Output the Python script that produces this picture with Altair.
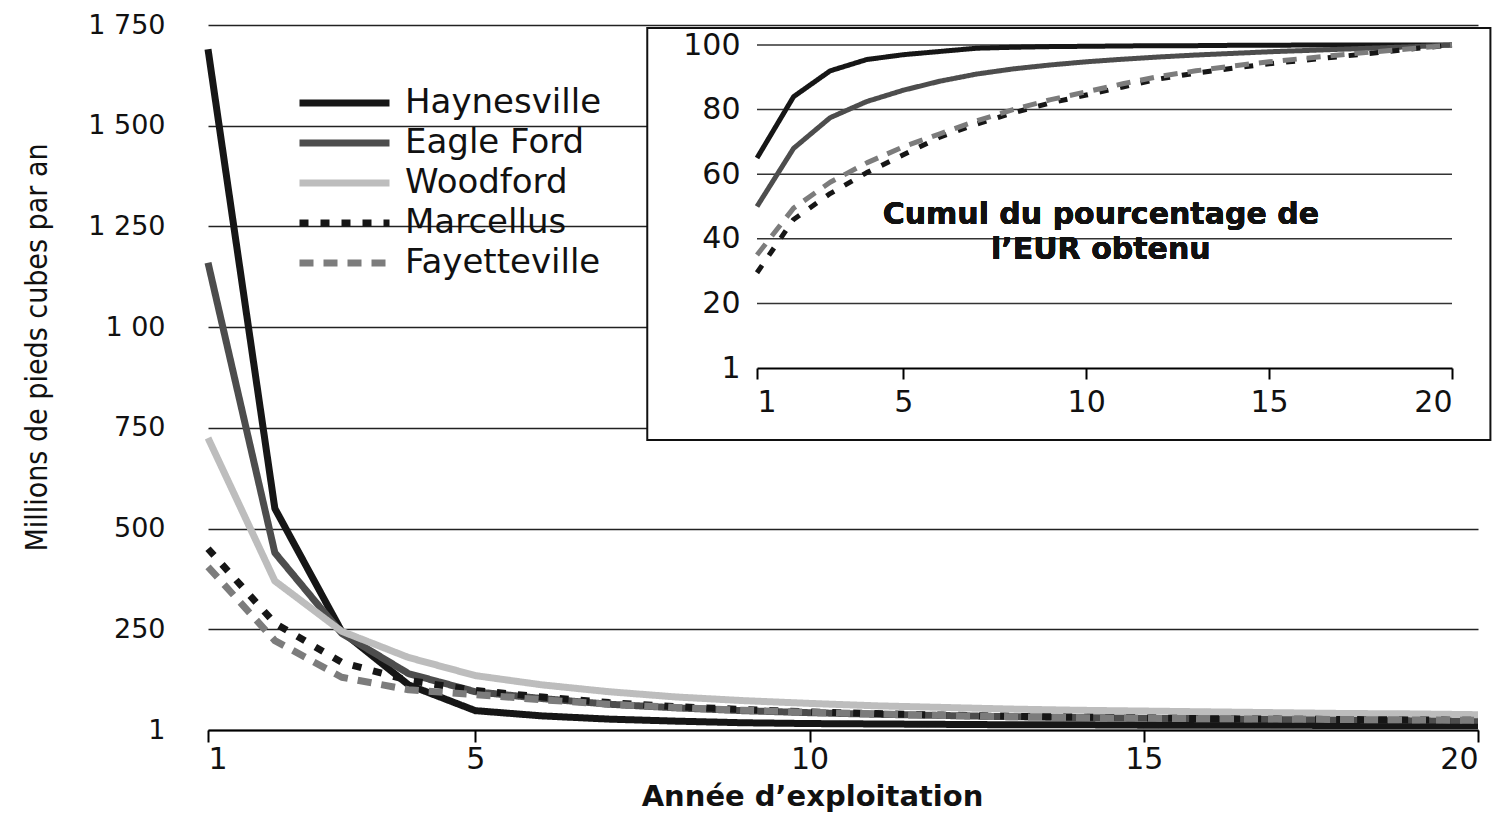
import json
import altair as alt
import pandas as pd

years = list(range(1, 21))
series = ["Haynesville", "Eagle Ford", "Woodford", "Marcellus", "Fayetteville"]

# Main chart: annual production (million cubic feet per year)
haynesville = [1690, 550, 245, 112, 48, 35, 27, 22, 18, 16, 15, 14, 13, 13, 12, 12, 12, 11, 11, 11]
eagle_ford = [1160, 440, 240, 140, 95, 78, 64, 55, 48, 43, 39, 36, 33, 31, 29, 28, 27, 26, 25, 24]
woodford = [725, 370, 245, 180, 135, 112, 95, 82, 73, 66, 60, 56, 52, 49, 47, 45, 43, 41, 40, 38]
marcellus = [450, 265, 168, 123, 98, 82, 68, 58, 51, 45, 41, 37, 34, 32, 30, 28, 27, 26, 25, 24]
fayetteville = [405, 222, 131, 100, 88, 75, 64, 56, 49, 44, 40, 36, 33, 31, 29, 28, 27, 26, 25, 24]

# Inset: cumulative % of EUR
cum_haynesville = [65, 84, 92, 95.5, 97, 98, 99, 99.3, 99.5, 99.6, 99.7, 99.8, 99.8, 99.9, 99.9, 100, 100, 100, 100, 100]
cum_eagle_ford = [50, 68, 77.5, 82.5, 86, 88.8, 91, 92.6, 93.8, 94.8, 95.6, 96.3, 96.9, 97.4, 97.9, 98.3, 98.7, 99.1, 99.5, 100]
cum_marcellus = [29.5, 46, 54, 60.5, 66, 71.5, 75.5, 79, 82, 84.5, 87, 89.5, 91.3, 92.8, 94.2, 95.3, 96.5, 97.7, 98.9, 100]
cum_fayetteville = [35, 49.5, 57.5, 63.5, 68.5, 72.5, 76.5, 80, 83, 85.5, 88, 90.3, 92, 93.5, 94.8, 95.9, 97, 98, 99, 100]

y_ticks = [0, 250, 500, 750, 1000, 1250, 1500, 1750]
y_tick_labels = ["1", "250", "500", "750", "1 00", "1 250", "1 500", "1 750"]
x_ticks = [1, 5, 10, 15, 20]
inset_y_ticks = [0, 20, 40, 60, 80, 100]
inset_y_labels = ["1", "20", "40", "60", "80", "100"]
inset_grid = [20, 40, 60, 80, 100]

colors = ["#161616", "#4d4d4d", "#bdbdbd", "#161616", "#7c7c7c"]
dashes = [[1, 0], [1, 0], [1, 0], [9, 12], [14, 10]]

main_vals = {"Haynesville": haynesville, "Eagle Ford": eagle_ford, "Woodford": woodford,
             "Marcellus": marcellus, "Fayetteville": fayetteville}
inset_vals = {"Haynesville": cum_haynesville, "Eagle Ford": cum_eagle_ford,
              "Marcellus": cum_marcellus, "Fayetteville": cum_fayetteville}

df_main = pd.DataFrame([{"year": y, "value": v, "series": s}
                        for s, vals in main_vals.items() for y, v in zip(years, vals)])
df_inset = pd.DataFrame([{"year": y, "value": v, "series": s}
                         for s, vals in inset_vals.items() for y, v in zip(years, vals)])
df_grid = pd.DataFrame({"v": inset_grid})
df_frame = pd.DataFrame({"x0": [-2.0], "x1": [21.05], "y0": [-22.3], "y1": [105.3]})

W, H = 1270, 705
FONT = "DejaVu Sans"

color_enc = alt.Color("series:N", scale=alt.Scale(domain=series, range=colors),
                      legend=alt.Legend(title=None))
dash_enc = alt.StrokeDash("series:N", scale=alt.Scale(domain=series, range=dashes),
                          legend=alt.Legend(title=None))

y_label_expr = f"{json.dumps(y_tick_labels)}[indexof({json.dumps(y_ticks)}, datum.value)]"
iy_label_expr = f"{json.dumps(inset_y_labels)}[indexof({json.dumps(inset_y_ticks)}, datum.value)]"

main = alt.Chart(df_main).mark_line(strokeWidth=7, strokeJoin="round").encode(
    x=alt.X("year:Q", scale=alt.Scale(domain=[1, 20], nice=False, zero=False),
            axis=alt.Axis(values=x_ticks, grid=False, domainColor="black", domainWidth=2,
                          tickColor="black", tickWidth=2, tickSize=12,
                          labelFontSize=30, labelFont=FONT, labelColor="#111", labelPadding=2,
                          title="Année d’exploitation", titleFontSize=29, titleFont=FONT,
                          titleFontWeight="bold", titleColor="#111", titlePadding=8, titleX=604)),
    y=alt.Y("value:Q", scale=alt.Scale(domain=[0, 1750], nice=False),
            axis=alt.Axis(values=y_ticks, labelExpr=y_label_expr, grid=True, gridColor="#222",
                          gridWidth=1.6, domain=False, ticks=False, labelFontSize=27,
                          labelFont=FONT, labelColor="#111", labelPadding=43,
                          title="Millions de pieds cubes par an",
                          titleFont="DejaVu Sans Condensed", titleFontSize=30,
                          titleFontWeight="normal", titleColor="#111",
                          titleX=-171, titleY=322, titleBaseline="middle")),
    color=color_enc,
    strokeDash=dash_enc,
    order="year:Q",
)

ix_scale = alt.Scale(domain=[1, 20], range=[549, 1244], nice=False, zero=False)
iy_scale = alt.Scale(domain=[0, 100], range=[343, 20], nice=False, zero=False)

ix_axis = alt.Axis(values=x_ticks, orient="bottom", offset=-362, grid=False,
                   domainColor="black", domainWidth=2, tickColor="black", tickWidth=2,
                   tickSize=11, labelFontSize=30, labelFont=FONT, labelColor="#111",
                   labelPadding=8, title=None, zindex=2)
iy_axis = alt.Axis(values=inset_y_ticks, labelExpr=iy_label_expr, orient="left",
                   offset=-549, grid=False, domain=False, ticks=False,
                   labelFontSize=30, labelFont=FONT, labelColor="#111",
                   labelPadding=17, title=None, zindex=2)

frame = alt.Chart(df_frame).mark_rect(fill="white", stroke="#111", strokeWidth=2).encode(
    x=alt.X("x0:Q", scale=ix_scale, axis=ix_axis),
    x2="x1:Q",
    y=alt.Y("y0:Q", scale=iy_scale, axis=iy_axis),
    y2="y1:Q",
)

igrid = alt.Chart(df_grid).mark_rule(color="#333", strokeWidth=1.5).encode(
    x=alt.XDatum(1, scale=ix_scale, axis=ix_axis),
    x2=alt.X2Datum(20),
    y=alt.Y("v:Q", scale=iy_scale, axis=iy_axis),
)

ilines = alt.Chart(df_inset).mark_line(strokeWidth=5, strokeJoin="round").encode(
    x=alt.X("year:Q", scale=ix_scale, axis=ix_axis),
    y=alt.Y("value:Q", scale=iy_scale, axis=iy_axis),
    color=alt.Color("series:N", scale=alt.Scale(domain=series, range=colors), legend=None),
    strokeDash=alt.StrokeDash("series:N", scale=alt.Scale(domain=series, range=dashes), legend=None),
    order="year:Q",
)

itext = alt.Chart(df_grid).mark_text(
    text="Cumul du pourcentage de\nl’EUR obtenu", lineBreak="\n", font=FONT,
    fontSize=30, fontWeight="bold", color="#111", align="center", baseline="middle",
    lineHeight=35,
).encode(
    x=alt.XDatum(10.4, scale=ix_scale, axis=ix_axis),
    y=alt.YDatum(47.4, scale=iy_scale, axis=iy_axis),
)

inset = alt.layer(frame, igrid, ilines, itext)

chart = alt.layer(main, inset).resolve_scale(x="independent", y="independent").properties(
    width=W, height=H,
    autosize=alt.AutoSizeParams(type="none"),
    padding={"left": 200, "top": 17, "right": 20, "bottom": 86},
    background="white",
).configure_view(stroke=None).configure_legend(
    orient="none", legendX=88, legendY=61, padding=0,
    symbolType="stroke", symbolSize=8100, symbolStrokeWidth=7,
    labelFontSize=34, labelFont=FONT, labelColor="#111", labelOffset=12,
    clipHeight=34, rowPadding=6, labelLimit=400,
)

chart.save("out.html", embed_options={"renderer": "svg", "actions": False})
